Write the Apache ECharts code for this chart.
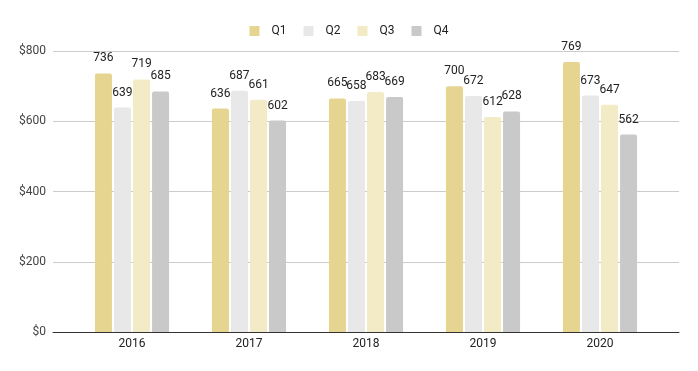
<!DOCTYPE html>
<html>
<head>
<meta charset="utf-8">
<script src="https://cdn.jsdelivr.net/npm/echarts@6/dist/echarts.min.js"></script>
<style>html,body{margin:0;padding:0;background:#fff}#c{width:698px;height:371px}</style>
</head>
<body>
<div id="c"></div>
<script>
var categories = ['2016', '2017', '2018', '2019', '2020'];
var seriesNames = ['Q1', 'Q2', 'Q3', 'Q4'];
var q1 = [736, 636, 665, 700, 769];
var q2 = [639, 687, 658, 672, 673];
var q3 = [719, 661, 683, 612, 647];
var q4 = [685, 602, 669, 628, 562];
var yTicks = [0, 200, 400, 600, 800];
var colors = ['#e6d491', '#e8e8e8', '#f3ebc6', '#c9c9c9'];

var values = [q1, q2, q3, q4];
var chart = echarts.init(document.getElementById('c'), null, {renderer: 'canvas'});
var font = 'Roboto, Arial, sans-serif';
chart.setOption({
  animation: false,
  textStyle: {fontFamily: font},
  legend: {
    top: 20, left: 'center', icon: 'rect', itemWidth: 10, itemHeight: 10, itemGap: 17,
    textStyle: {fontSize: 12, color: '#222', fontFamily: font, padding: [0, 0, 0, 7]},
    data: seriesNames
  },
  grid: [
    {left: 53, right: 19, top: 51, bottom: 39},
    {left: 73.5, right: 39.5, top: 51, bottom: 39}
  ],
  xAxis: [
    {gridIndex: 0, type: 'category', data: [''], axisTick: {show: false}, axisLabel: {show: false},
     axisLine: {lineStyle: {color: '#333', width: 1}}, splitLine: {show: false}},
    {gridIndex: 1, type: 'category', data: categories, axisTick: {show: false}, axisLine: {show: false},
     axisLabel: {fontSize: 12, color: '#222', margin: 6, fontFamily: font}}
  ],
  yAxis: [
    {gridIndex: 0, type: 'value', min: yTicks[0], max: yTicks[yTicks.length - 1], interval: 200,
     axisLine: {show: false}, axisTick: {show: false},
     axisLabel: {fontSize: 12, color: '#444', margin: 7, fontFamily: font, formatter: function (v) { return '$' + v; }},
     splitLine: {lineStyle: {color: '#cccccc', width: 1}}},
    {gridIndex: 1, type: 'value', min: yTicks[0], max: yTicks[yTicks.length - 1], interval: 200, show: false,
     splitLine: {show: false}}
  ],
  series: seriesNames.map(function (n, i) {
    return {
      name: n, type: 'bar', xAxisIndex: 1, yAxisIndex: 1, data: values[i],
      barWidth: 17, barGap: '12%',
      itemStyle: {color: colors[i], borderRadius: [2, 2, 0, 0]},
      label: {show: true, position: 'top', distance: 9, fontSize: 12, color: '#222', fontFamily: font}
    };
  })
});
</script>
</body>
</html>
